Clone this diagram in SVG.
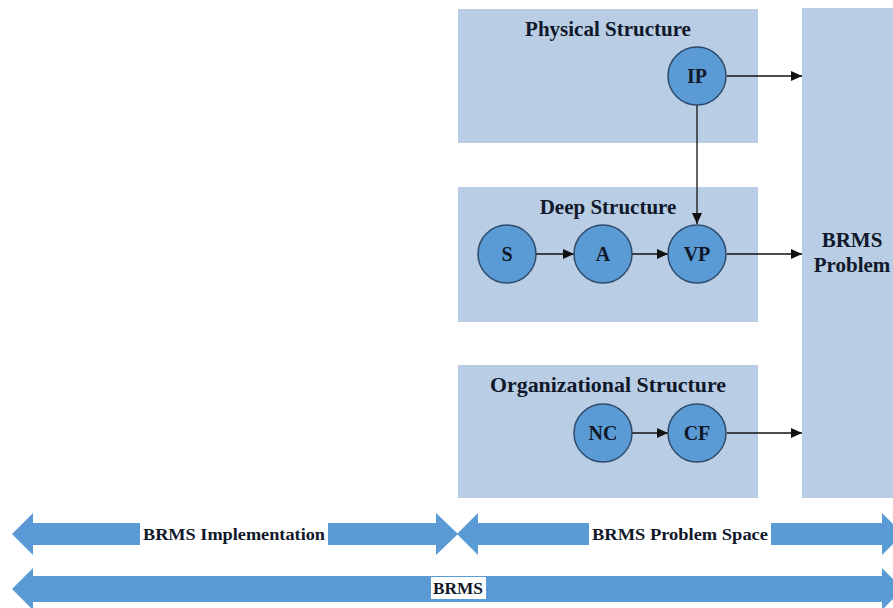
<svg xmlns="http://www.w3.org/2000/svg" width="893" height="608" viewBox="0 0 893 608">
  <style>
    .panel { fill: #B9CDE5; }
    .node circle { fill: #5B9BD5; stroke: #2E4B6B; stroke-width: 1.5; }
    .lbl { font-family: "Liberation Serif", "Times New Roman", serif; font-weight: bold; fill: #10182a; text-anchor: middle; }
    .title { font-size: 21px; }
    .nlbl { font-size: 20px; }
    .band { fill: #5B9BD5; }
    .bandlbl { font-size: 16px; }
    .conn line { stroke: #111; stroke-width: 1.3; fill: none; marker-end: url(#arr); }
  </style>
  <defs>
    <marker id="arr" markerWidth="11" markerHeight="10" refX="11" refY="5" orient="auto" markerUnits="userSpaceOnUse">
      <path d="M0,0 L11,5 L0,10 Z" fill="#111"/>
    </marker>
  </defs>

  <rect x="0" y="0" width="893" height="608" fill="#fff"/>

  <!-- structure panels -->
  <g id="physical-structure">
    <rect class="panel" x="458" y="9" width="300" height="134"/>
    <text class="lbl title" x="608" y="36">Physical Structure</text>
  </g>
  <g id="deep-structure">
    <rect class="panel" x="458" y="187" width="300" height="135"/>
    <text class="lbl title" x="608" y="214">Deep Structure</text>
  </g>
  <g id="organizational-structure">
    <rect class="panel" x="458" y="365" width="300" height="133"/>
    <text class="lbl title" x="608" y="392" textLength="236" lengthAdjust="spacingAndGlyphs">Organizational Structure</text>
  </g>
  <g id="brms-problem">
    <rect class="panel" x="802" y="8" width="91" height="490"/>
    <text class="lbl title" x="852" y="247">BRMS</text>
    <text class="lbl title" x="852" y="272">Problem</text>
  </g>

  <!-- connectors -->
  <g id="connectors" class="conn">
    <line x1="727" y1="76" x2="802" y2="76"/>
    <line x1="697" y1="105" x2="697" y2="224"/>
    <line x1="536" y1="254" x2="574" y2="254"/>
    <line x1="632" y1="254" x2="668" y2="254"/>
    <line x1="727" y1="254" x2="802" y2="254"/>
    <line x1="632" y1="433" x2="668" y2="433"/>
    <line x1="727" y1="433" x2="802" y2="433"/>
  </g>

  <!-- nodes -->
  <g id="IP" class="node">
    <circle cx="697" cy="76" r="29"/>
    <text class="lbl nlbl" x="697" y="83">IP</text>
  </g>
  <g id="S" class="node">
    <circle cx="507" cy="254" r="29"/>
    <text class="lbl nlbl" x="507" y="261">S</text>
  </g>
  <g id="A" class="node">
    <circle cx="603" cy="254" r="29"/>
    <text class="lbl nlbl" x="603" y="261">A</text>
  </g>
  <g id="VP" class="node">
    <circle cx="697" cy="254" r="29"/>
    <text class="lbl nlbl" x="697" y="261">VP</text>
  </g>
  <g id="NC" class="node">
    <circle cx="603" cy="433" r="29"/>
    <text class="lbl nlbl" x="603" y="440">NC</text>
  </g>
  <g id="CF" class="node">
    <circle cx="697" cy="433" r="29"/>
    <text class="lbl nlbl" x="697" y="440">CF</text>
  </g>

  <!-- scope bands -->
  <g id="band-implementation">
    <path class="band" d="M12,534 L33,513 L33,523 L436,523 L436,513 L458,534 L436,555 L436,545 L33,545 L33,555 Z"/>
    <rect x="140" y="523" width="188" height="22" fill="#fff"/>
    <text class="lbl bandlbl" x="234" y="540" textLength="182" lengthAdjust="spacingAndGlyphs">BRMS Implementation</text>
  </g>
  <g id="band-problem-space">
    <path class="band" d="M457,534 L478,513 L478,523 L882,523 L882,513 L903,534 L882,555 L882,545 L478,545 L478,555 Z"/>
    <rect x="589" y="523" width="182" height="22" fill="#fff"/>
    <text class="lbl bandlbl" x="680" y="540" textLength="176" lengthAdjust="spacingAndGlyphs">BRMS Problem Space</text>
  </g>
  <g id="band-brms">
    <path class="band" d="M12,589 L33,568 L33,576 L882,576 L882,568 L903,589 L882,610 L882,602 L33,602 L33,610 Z"/>
    <rect x="431" y="577" width="55" height="22" fill="#fff"/>
    <text class="lbl" x="458" y="594" font-size="17" textLength="50" lengthAdjust="spacingAndGlyphs">BRMS</text>
  </g>
</svg>
